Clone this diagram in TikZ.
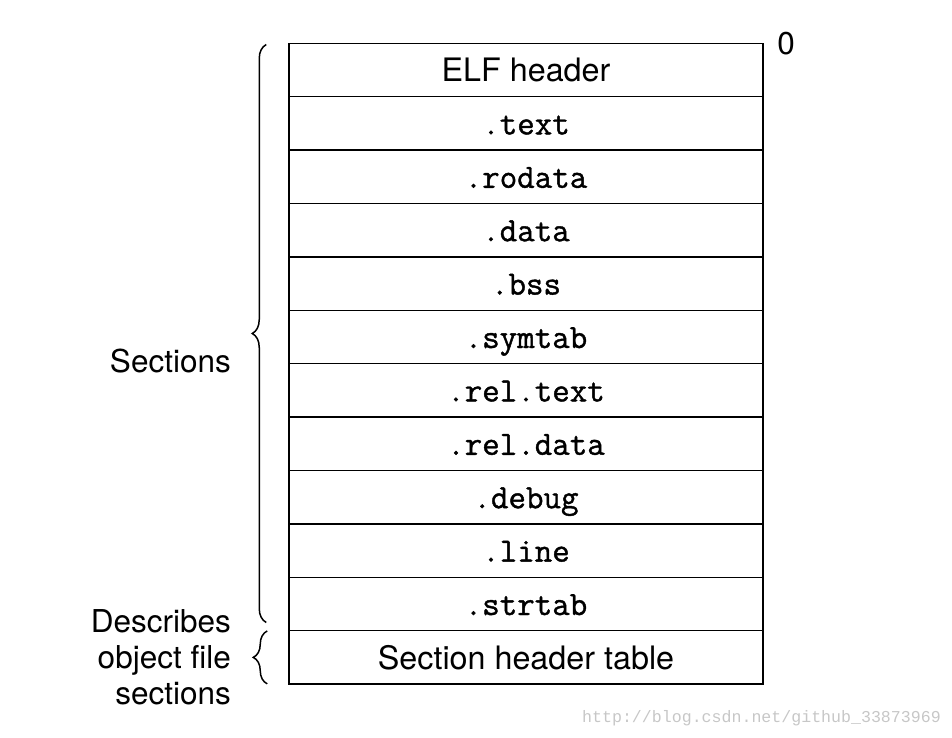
\documentclass[tikz,border=0pt]{standalone}
\usepackage{fontspec}
\setmainfont{TeX Gyre Heros}
\setmonofont{Latin Modern Mono}[FakeBold=1.2]
\newfontfamily\wmfont{Liberation Mono}
\newcommand\lblsize{\fontsize{31.5}{36}\selectfont}
\usetikzlibrary{positioning,decorations.pathreplacing}

\tikzset{
  sect/.style={draw, line width=1.5pt, minimum width=474pt, minimum height=53.4pt,
    inner sep=0pt, text height=23pt, text depth=1pt, font=\fontsize{34}{40}\selectfont\ttfamily},
  hdrsect/.style={sect, text height=24pt, text depth=0pt, font=\fontsize{32.3}{36}\selectfont\rmfamily},
  lbl/.style={font=\lblsize, inner sep=0pt},
  brc/.style={decorate, decoration={brace, amplitude=14pt}, line width=1.5pt},
}

\begin{document}
\begin{tikzpicture}[x=1pt,y=-1pt]
  \useasboundingbox (0,0) rectangle (952,738);
  %% rows of the object file
  \node[hdrsect] (r0) at (526,70) {ELF header};
  \foreach \t [count=\i] in {.text,.rodata,.data,.bss,.symtab,
      .rel.text,.rel.data,.debug,.line,.strtab}
    \node[sect] (r\i) at (526,{70+53.4*\i}) {\t};
  \node[hdrsect] (r11) at (526,{70+53.4*11}) {Section header table};
  %% offset
  \node[lbl] (zero) at (786,44) {0};
  %% braces
  \draw[brc] ([xshift=-22pt,yshift=9pt]r10.south west) -- ([xshift=-22pt,yshift=-2pt]r0.north west);
  \draw[brc] ([xshift=-21pt,yshift=1pt]r11.south west) -- ([xshift=-21pt,yshift=-1pt]r11.north west);
  \node[lbl, anchor=east] (sec) at (231,361) {Sections};
  \node[lbl, anchor=east, align=right] (desc) at (231,657) {Describes\\object file\\sections};
  %% watermark
  \node[font=\wmfont\fontsize{16.6}{20}\selectfont, text=black!22, anchor=east, inner sep=0pt]
    (wm) at (941,718) {http://blog.csdn.net/github\_33873969};
\end{tikzpicture}
\end{document}
